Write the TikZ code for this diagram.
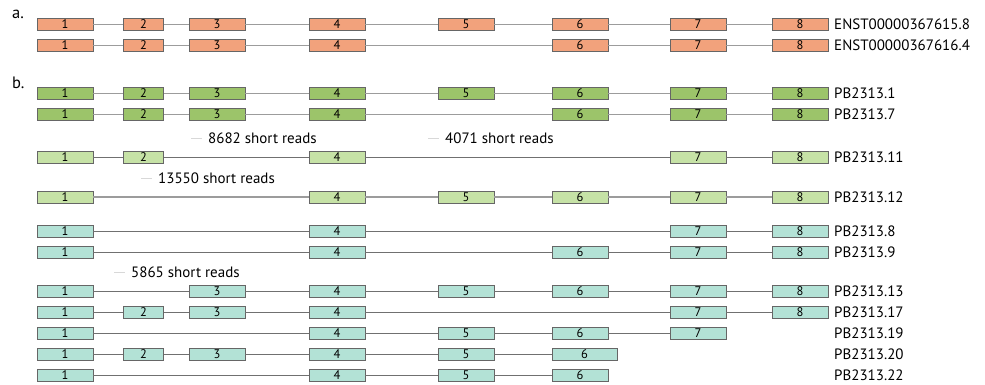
\documentclass[tikz,border=0pt]{standalone}
\usepackage{fontspec}
\setmainfont{PT Sans}
\definecolor{ensOrange}{HTML}{F2A27C}
\definecolor{pbGreen}{HTML}{9CC46A}
\definecolor{pbLight}{HTML}{C6E2A6}
\definecolor{pbTeal}{HTML}{B3E2D6}
\definecolor{boxEdge}{HTML}{666666}
\definecolor{intronLight}{HTML}{9C9C9C}
\definecolor{intronDark}{HTML}{707070}
\definecolor{tickGray}{HTML}{D8D8D8}

% exon centres and widths (index 1..8)
\def\ecen{{0,65,143.5,217,337,466,580,698,800}}
\def\ewid{{0,56,40,56,56,56,56,56,56}}

\tikzset{
  exonbox/.style={draw=boxEdge, line width=0.9pt, fill=#1, rectangle,
    minimum height=12, inner sep=0pt, font=\fontsize{12.5}{12.5}\selectfont},
  intronA/.style={draw=intronLight, line width=1.4pt},
  intronB/.style={draw=intronDark, line width=0.9pt},
  txlabel/.style={anchor=west, inner sep=0pt, font=\fontsize{15}{15}\selectfont},
  panel/.style={anchor=west, inner sep=0pt, font=\fontsize{16.5}{16.5}\selectfont},
  reads/.style={anchor=west, inner sep=0pt, font=\fontsize{15}{15}\selectfont},
  readtick/.style={draw=tickGray, line width=0.8pt},
}

% #1 row id, #2 y, #3 fill colour, #4 intron style, #5 exon list, #6 transcript name
\newcommand\txrow[6]{%
  \foreach \e [count=\i, remember=\e as \prev (initially 0)] in {#5} {
    \pgfmathsetmacro\cx{\ecen[\e]}
    \pgfmathsetmacro\w{\ewid[\e]}
    \node[exonbox=#3, minimum width=\w] (#1-\e) at (\cx,#2) {\e};
    \ifnum\i>1 \draw[#4] (#1-\prev) -- (#1-\e); \fi
  }
  \node[txlabel] (#1-name) at (834,#2) {#6};
}

\begin{document}
\begin{tikzpicture}[x=1pt,y=-1pt]
\useasboundingbox (0,0) rectangle (985,385);

% panel letters
\node[panel] (pa) at (12,14) {a.};
\node[panel] (pb) at (12,83) {b.};

% a. reference transcripts
\txrow{ensA}{24.5}{ensOrange}{intronA}{1,2,3,4,5,6,7,8}{ENST00000367615.8}
\txrow{ensB}{45.5}{ensOrange}{intronA}{1,2,3,4,6,7,8}{ENST00000367616.4}

% b. PacBio isoforms
\txrow{pb1}{93.5}{pbGreen}{intronA}{1,2,3,4,5,6,7,8}{PB2313.1}
\txrow{pb7}{114.5}{pbGreen}{intronA}{1,2,3,4,6,7,8}{PB2313.7}
\txrow{pb11}{157.5}{pbLight}{intronB}{1,2,4,7,8}{PB2313.11}
\txrow{pb12}{197}{pbLight}{intronA}{1,4,5,6,7,8}{PB2313.12}
\txrow{pb8}{231.5}{pbTeal}{intronB}{1,4,7,8}{PB2313.8}
\txrow{pb9}{252.5}{pbTeal}{intronB}{1,4,6,7,8}{PB2313.9}
\txrow{pb13}{291.5}{pbTeal}{intronB}{1,3,4,5,6,7,8}{PB2313.13}
\txrow{pb17}{312.5}{pbTeal}{intronB}{1,2,3,4,7,8}{PB2313.17}
\txrow{pb19}{333.5}{pbTeal}{intronB}{1,4,5,6,7}{PB2313.19}
\txrow{pb20}{354.5}{pbTeal}{intronB}{1,2,3,4,5}{PB2313.20}
\node[exonbox=pbTeal, minimum width=65] (pb20-6) at (584.5,354.5) {6};
\draw[intronB] (pb20-5) -- (pb20-6);
\txrow{pb22}{375}{pbTeal}{intronB}{1,4,5,6}{PB2313.22}

% short-read support
\node[reads] (r8682) at (208,138) {8682 short reads};
\node[reads] (r4071) at (445,138) {4071 short reads};
\node[reads] (r13550) at (158,178) {13550 short reads};
\node[reads] (r5865) at (131,272) {5865 short reads};
\foreach \r in {r8682,r4071,r13550,r5865}
  \draw[readtick] ([xshift=-17]\r.west) -- ([xshift=-6]\r.west);
\end{tikzpicture}
\end{document}
